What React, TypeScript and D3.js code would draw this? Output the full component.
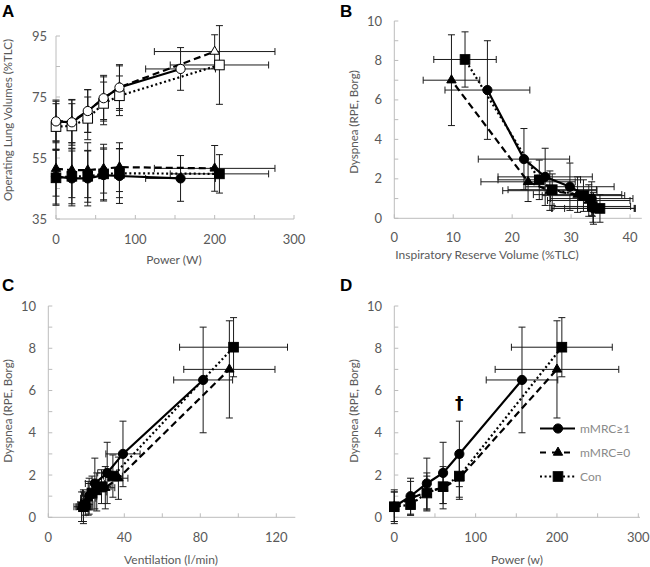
import React from 'react';
import * as d3 from 'd3';

// ---------- data ----------
const powerM1 = [0, 20, 40, 60, 80, 157];
const powerM0 = [0, 20, 40, 60, 80, 200];
const powerCon = [0, 20, 40, 60, 80, 206];
const powerSD_M1 = [0, 0, 0, 0, 0, 44];
const powerSD_M0 = [0, 0, 0, 0, 0, 76];
const powerSD_Con = [0, 0, 0, 0, 0, 62];

const eilvM1 = [67, 66.7, 70.4, 74.6, 78.1, 84.2];
const eilvSD_M1 = [7, 7.5, 7, 7.5, 7.5, 7];
const eilvM0 = [67.1, 67, 70.4, 74.6, 78.2, 89.9];
const eilvSD_M0 = [6.5, 7, 7, 7, 7, 5.5];
const eilvCon = [65.3, 65.5, 68, 72.9, 75.4, 85.5];
const eilvSD_Con = [7.5, 7.3, 7, 7, 6.5, 12.9];

const eelvM1 = [48.9, 48.3, 48.3, 49.4, 49.1, 48.3];
const eelvSD_M1 = [9, 9, 9, 8.5, 9, 7.5];
const eelvM0 = [51.5, 51, 51, 51.5, 52, 51.6];
const eelvSD_M0 = [9, 9, 9, 8, 8, 7.5];
const eelvCon = [48.5, 49, 49, 49.8, 50, 49.8];
const eelvSD_Con = [9, 9, 8.5, 8.5, 8, 6.3];

const dyspM1 = [0.5, 1.0, 1.6, 2.1, 3.0, 6.5];
const dyspSD_M1 = [0.8, 0.85, 1.2, 1.45, 1.55, 2.5];
const dyspM0 = [0.5, 0.9, 1.2, 1.4, 1.85, 7.0];
const dyspSD_M0 = [0.7, 0.8, 0.9, 1.0, 1.0, 2.3];
const dyspCon = [0.5, 0.6, 1.15, 1.45, 1.95, 8.05];
const dyspSD_Con = [0.7, 0.5, 0.8, 0.8, 1.0, 1.4];

const irvM1 = [33.8, 33.5, 29.8, 25.6, 22.0, 15.8];
const irvSD_M1 = [7, 7, 7.5, 8, 7.75, 7.2];
const irvM0 = [33.7, 33.0, 31.1, 26.4, 22.7, 9.7];
const irvSD_M0 = [7, 7, 7.5, 8, 8, 4.8];
const irvCon = [34.9, 33.6, 32.1, 26.8, 24.6, 12.0];
const irvSD_Con = [6, 6.5, 7, 7.5, 7, 5.3];

const veM1 = [18.5, 21.5, 24.5, 31, 39.3, 81.5];
const veSD_M1 = [4, 4, 5, 5, 9, 15.5];
const veM0 = [17.5, 21, 25.5, 30, 36.9, 95.3];
const veSD_M0 = [4, 4, 5, 5, 5, 24];
const veCon = [18.5, 19.5, 23, 28, 34, 97.5];
const veSD_Con = [3.5, 4, 5, 5, 5, 28.4];

const groupNames = ['mMRC\u22651', 'mMRC=0', 'Con'];

const ticksA_x = [0, 100, 200, 300];
const ticksA_y = [35, 55, 75, 95];
const ticksB_x = [0, 10, 20, 30, 40];
const ticksDysp = [0, 2, 4, 6, 8, 10];
const ticksC_x = [0, 40, 80, 120];
const ticksD_x = [0, 100, 200, 300];

// ---------- styles ----------
const FONT = 'Lato, "Open Sans", sans-serif';
const AXIS = '#bcbcbc';
const LABEL = '#595959';
const styles = [
  { marker: 'circle', dash: null as string | null },
  { marker: 'triangle', dash: '7,4' },
  { marker: 'square', dash: '2,2.6' },
];

type Ser = { x: number[]; y: number[]; xsd?: number[]; ysd: number[]; style: number; open?: boolean };

function Marker({ type, cx, cy, open }: { type: string; cx: number; cy: number; open?: boolean }) {
  const fill = open ? '#fff' : '#000';
  const stroke = '#000';
  if (type === 'circle') return <circle cx={cx} cy={cy} r={4.6} fill={fill} stroke={stroke} strokeWidth={1} />;
  if (type === 'square') return <rect x={cx - 4.8} y={cy - 4.8} width={9.6} height={9.6} fill={fill} stroke={stroke} strokeWidth={1} />;
  const p = d3.symbol(d3.symbolTriangle, 38)();
  return <path d={p || ''} transform={`translate(${cx},${cy})`} fill={fill} stroke={stroke} strokeWidth={1} />;
}

function Panel(props: {
  x: d3.ScaleLinear<number, number>;
  y: d3.ScaleLinear<number, number>;
  xMinor: number[];
  yMinor: number[];
  xLabels: number[];
  yLabels: number[];
  series: Ser[];
  xTitle: string;
  yTitle: string;
  xTitleX: number;
  xTitleY: number;
  yTitleX: number;
  yTitleY: number;
  letter: string;
  lx: number;
  ly: number;
  xLabelY: number;
  yLabelX: number;
  xEnd?: number;
}) {
  const { x, y } = props;
  const [x0] = x.range();
  const [y0, y1] = y.range();
  const xe = props.xEnd ?? x.range()[1];
  const line = d3.line<[number, number]>().x((d) => x(d[0])).y((d) => y(d[1]));
  return (
    <g>
      <text x={props.lx} y={props.ly} fontFamily="Arial, Liberation Sans, sans-serif" fontWeight="bold" fontSize={17} fill="#000">
        {props.letter}
      </text>
      {/* axes */}
      <line x1={x0} x2={x0} y1={y0} y2={y1} stroke={AXIS} strokeWidth={1} />
      <line x1={x0} x2={xe} y1={y0} y2={y0} stroke={AXIS} strokeWidth={1} />
      {props.yMinor.map((t, i) => (
        <line key={'yt' + i} x1={x0} x2={x0 + 4} y1={y(t)} y2={y(t)} stroke={AXIS} />
      ))}
      {props.xMinor.map((t, i) => (
        <line key={'xt' + i} x1={x(t)} x2={x(t)} y1={y0} y2={y0 - 4} stroke={AXIS} />
      ))}
      {props.yLabels.map((t, i) => (
        <text key={'yl' + i} x={props.yLabelX} y={y(t)} dy="0.35em" textAnchor="end" fontFamily={FONT} fontSize={13} fill={LABEL}>
          {t}
        </text>
      ))}
      {props.xLabels.map((t, i) => (
        <text key={'xl' + i} x={x(t)} y={props.xLabelY} dy="0.35em" textAnchor="middle" fontFamily={FONT} fontSize={13} fill={LABEL}>
          {t}
        </text>
      ))}
      <text x={props.xTitleX} y={props.xTitleY} dy="0.35em" textAnchor="middle" fontFamily={FONT} fontSize={12} fill={LABEL}>
        {props.xTitle}
      </text>
      <text
        transform={`translate(${props.yTitleX},${props.yTitleY}) rotate(-90)`}
        dy="0.35em"
        textAnchor="middle"
        fontFamily={FONT}
        fontSize={11.5}
        fill={LABEL}
      >
        {props.yTitle}
      </text>
      {/* error bars */}
      {props.series.map((s, si) => (
        <g key={'eb' + si} stroke="#1a1a1a" strokeWidth={1} fill="none">
          {s.x.map((xv, i) => {
            const cx = x(xv);
            const cy = y(s.y[i]);
            const ya = y(s.y[i] + s.ysd[i]);
            const yb = y(s.y[i] - s.ysd[i]);
            const parts = [
              <line key="v" x1={cx} x2={cx} y1={ya} y2={yb} />,
              <line key="vc1" x1={cx - 3.5} x2={cx + 3.5} y1={ya} y2={ya} />,
              <line key="vc2" x1={cx - 3.5} x2={cx + 3.5} y1={yb} y2={yb} />,
            ];
            if (s.xsd && s.xsd[i] > 0) {
              const xa = x(xv - s.xsd[i]);
              const xb = x(xv + s.xsd[i]);
              parts.push(<line key="h" x1={xa} x2={xb} y1={cy} y2={cy} />);
              parts.push(<line key="hc1" x1={xa} x2={xa} y1={cy - 3.5} y2={cy + 3.5} />);
              parts.push(<line key="hc2" x1={xb} x2={xb} y1={cy - 3.5} y2={cy + 3.5} />);
            }
            return <g key={i}>{parts}</g>;
          })}
        </g>
      ))}
      {/* lines */}
      {props.series.map((s, si) => (
        <path
          key={'ln' + si}
          d={line(s.x.map((v, i) => [v, s.y[i]] as [number, number])) || ''}
          fill="none"
          stroke="#000"
          strokeWidth={2.2}
          strokeDasharray={styles[s.style].dash || undefined}
        />
      ))}
      {/* markers */}
      {props.series.map((s, si) => (
        <g key={'mk' + si}>
          {s.x.map((v, i) => (
            <Marker key={i} type={styles[s.style].marker} cx={x(v)} cy={y(s.y[i])} open={s.open} />
          ))}
        </g>
      ))}
    </g>
  );
}

export default function App() {
  const range = (a: number, b: number, st: number) => d3.range(a, b + st / 2, st);

  const xA = d3.scaleLinear().domain([0, 300]).range([56, 294]);
  const yA = d3.scaleLinear().domain([35, 95]).range([219, 36]);
  const xB = d3.scaleLinear().domain([0, 42]).range([394.3, 394.3 + 42 * 5.893]);
  const yB = d3.scaleLinear().domain([0, 10]).range([218.3, 21]);
  const xC = d3.scaleLinear().domain([0, 130]).range([48.3, 48.3 + 130 * 1.9]);
  const yC = d3.scaleLinear().domain([0, 10]).range([517.3, 306]);
  const xD = d3.scaleLinear().domain([0, 300]).range([394.3, 638.3]);
  const yD = d3.scaleLinear().domain([0, 10]).range([517.3, 306]);

  const seriesA: Ser[] = [
    { x: powerM1, y: eelvM1, xsd: powerSD_M1, ysd: eelvSD_M1, style: 0 },
    { x: powerM0, y: eelvM0, xsd: powerSD_M0, ysd: eelvSD_M0, style: 1 },
    { x: powerCon, y: eelvCon, xsd: powerSD_Con, ysd: eelvSD_Con, style: 2 },
    { x: powerCon, y: eilvCon, xsd: powerSD_Con, ysd: eilvSD_Con, style: 2, open: true },
    { x: powerM0, y: eilvM0, xsd: powerSD_M0, ysd: eilvSD_M0, style: 1, open: true },
    { x: powerM1, y: eilvM1, xsd: powerSD_M1, ysd: eilvSD_M1, style: 0, open: true },
  ];
  const seriesB: Ser[] = [
    { x: irvCon, y: dyspCon, xsd: irvSD_Con, ysd: dyspSD_Con, style: 2 },
    { x: irvM0, y: dyspM0, xsd: irvSD_M0, ysd: dyspSD_M0, style: 1 },
    { x: irvM1, y: dyspM1, xsd: irvSD_M1, ysd: dyspSD_M1, style: 0 },
  ];
  const seriesC: Ser[] = [
    { x: veCon, y: dyspCon, xsd: veSD_Con, ysd: dyspSD_Con, style: 2 },
    { x: veM0, y: dyspM0, xsd: veSD_M0, ysd: dyspSD_M0, style: 1 },
    { x: veM1, y: dyspM1, xsd: veSD_M1, ysd: dyspSD_M1, style: 0 },
  ];
  const seriesD: Ser[] = [
    { x: powerCon, y: dyspCon, xsd: powerSD_Con, ysd: dyspSD_Con, style: 2 },
    { x: powerM0, y: dyspM0, xsd: powerSD_M0, ysd: dyspSD_M0, style: 1 },
    { x: powerM1, y: dyspM1, xsd: powerSD_M1, ysd: dyspSD_M1, style: 0 },
  ];

  const legendY = [428.5, 452.5, 476.5];

  return (
    <svg width={650} height={567} style={{ position: 'absolute', left: 0, top: 0, background: '#fff' }}>
      <rect width={650} height={567} fill="#fff" />
      <Panel
        x={xA} y={yA}
        xMinor={range(0, 300, 50)} yMinor={range(35, 95, 10)}
        xLabels={ticksA_x} yLabels={ticksA_y}
        series={seriesA}
        xTitle="Power (W)" yTitle="Operating Lung Volumes (%TLC)"
        xTitleX={174} xTitleY={260} yTitleX={8} yTitleY={120}
        letter="A" lx={2} ly={17}
        xLabelY={239} yLabelX={47}
      />
      <Panel
        x={xB} y={yB}
        xMinor={range(0, 40, 10)} yMinor={range(0, 10, 1)}
        xLabels={ticksB_x} yLabels={ticksDysp}
        series={seriesB}
        xTitle="Inspiratory Reserve Volume (%TLC)" yTitle="Dyspnea (RPE, Borg)"
        xTitleX={487} xTitleY={254.5} yTitleX={354} yTitleY={122}
        letter="B" lx={340} ly={17}
        xLabelY={237} yLabelX={382}
      />
      <Panel
        x={xC} y={yC}
        xMinor={range(0, 120, 20)} yMinor={range(0, 10, 1)}
        xLabels={ticksC_x} yLabels={ticksDysp}
        series={seriesC}
        xTitle="Ventilation (l/min)" yTitle="Dyspnea (RPE, Borg)"
        xTitleX={171} xTitleY={560} yTitleX={8} yTitleY={411}
        letter="C" lx={2} ly={291}
        xLabelY={537} yLabelX={36}
      />
      <Panel
        x={xD} y={yD}
        xMinor={range(0, 300, 50)} yMinor={range(0, 10, 1)}
        xLabels={ticksD_x} yLabels={ticksDysp}
        series={seriesD}
        xTitle="Power (w)" yTitle="Dyspnea (RPE, Borg)"
        xTitleX={517} xTitleY={560} yTitleX={354} yTitleY={411}
        letter="D" lx={340} ly={291}
        xLabelY={537} yLabelX={382}
        xEnd={640}
      />
      {/* significance dagger */}
      <text x={xD(80)} y={409} textAnchor="middle" fontFamily="DejaVu Sans, sans-serif" fontWeight="bold" fontSize={17} fill="#000">
        {'\u2020'}
      </text>
      {/* legend */}
      {groupNames.map((name, i) => (
        <g key={name}>
          <line x1={540} x2={575} y1={legendY[i]} y2={legendY[i]} stroke="#000" strokeWidth={2.2}
            strokeDasharray={i === 1 ? '6,6' : styles[i].dash || undefined} />
          <Marker type={styles[i].marker} cx={558} cy={legendY[i]} />
          <text x={580} y={legendY[i]} dy="0.35em" fontFamily={FONT} fontSize={12} fill="#8a8a8a">{name}</text>
        </g>
      ))}
    </svg>
  );
}
